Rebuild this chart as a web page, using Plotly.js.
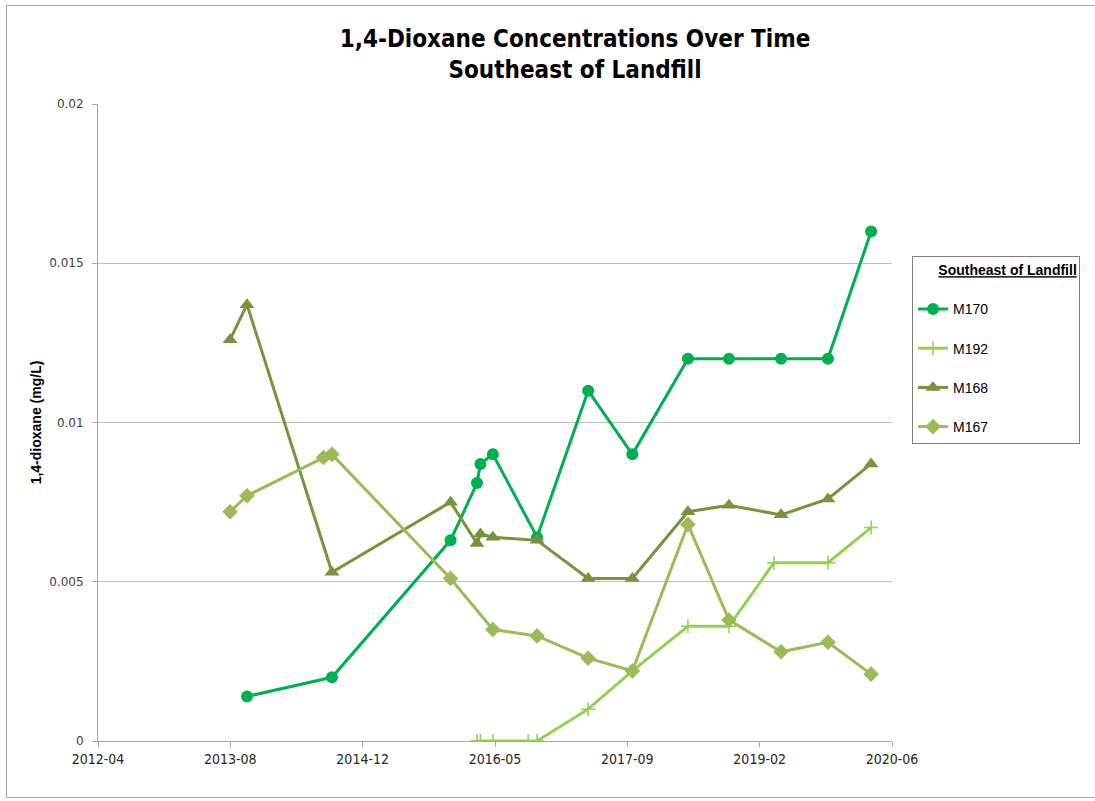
<!DOCTYPE html>
<html>
<head>
<meta charset="utf-8">
<script src="https://cdn.plot.ly/plotly-3.0.1.min.js"></script>
<style>
  html, body { margin: 0; padding: 0; background: #fff; }
  #wrap { position: relative; width: 1095px; height: 801px; }
  #chart { position: absolute; left: 0; top: 0; width: 1095px; height: 801px; }
  #frame { position: absolute; left: 6px; top: 5px; width: 1092px; height: 793px;
           border: 1px solid #a6a6a6; pointer-events: none; box-sizing: border-box; }
</style>
</head>
<body>
<div id="wrap">
  <div id="chart"></div>
  <div id="frame"></div>
</div>
<script>
// ---- data ----
const m170Dates = ['2013-10-16','2014-09-02','2015-11-24','2016-03-03','2016-03-16','2016-05-02','2016-10-16','2017-04-27','2017-10-11','2018-05-09','2018-10-11','2019-04-26','2019-10-20','2020-03-31'];
const m170Vals  = [0.0014, 0.002, 0.0063, 0.0081, 0.0087, 0.009, 0.0064, 0.011, 0.009, 0.012, 0.012, 0.012, 0.012, 0.016];

const m192Dates = ['2016-03-03','2016-03-16','2016-05-02','2016-09-12','2016-10-16','2017-04-27','2017-10-11','2018-05-09','2018-10-11','2019-03-30','2019-10-20','2020-03-31'];
const m192Vals  = [0, 0, 0, 0, 0, 0.001, 0.0022, 0.0036, 0.0036, 0.0056, 0.0056, 0.0067];

const m168Dates = ['2013-08-13','2013-10-16','2014-09-02','2015-11-24','2016-03-03','2016-03-16','2016-05-02','2016-10-16','2017-04-27','2017-10-11','2018-05-09','2018-10-11','2019-04-26','2019-10-20','2020-03-31'];
const m168Vals  = [0.0126, 0.0137, 0.0053, 0.0075, 0.0062, 0.0065, 0.0064, 0.0063, 0.0051, 0.0051, 0.0072, 0.0074, 0.0071, 0.0076, 0.0087];

const m167Dates = ['2013-08-13','2013-10-16','2014-08-01','2014-09-02','2015-11-24','2016-05-02','2016-10-16','2017-04-27','2017-10-11','2018-05-09','2018-10-11','2019-04-26','2019-10-20','2020-03-31'];
const m167Vals  = [0.0072, 0.0077, 0.0089, 0.009, 0.0051, 0.0035, 0.0033, 0.0026, 0.0022, 0.0068, 0.0038, 0.0028, 0.0031, 0.0021];

const xTickVals  = ['2012-04-01','2013-08-14','2014-12-27','2016-05-10','2017-09-22','2019-02-04','2020-06-18'];
const xTickText  = ['2012-04','2013-08','2014-12','2016-05','2017-09','2019-02','2020-06'];
const yTickVals  = [0, 0.005, 0.01, 0.015, 0.02];
const yTickText  = ['0', '0.005', '0.01', '0.015', '0.02'];

const narrow = '"Liberation Sans Narrow", "DejaVu Sans Condensed", "Liberation Sans", sans-serif';
const plain = '"Liberation Sans", Arial, sans-serif';
const pad = '\u00A0'.repeat(6);

const traces = [
  { name: 'M170', x: m170Dates, y: m170Vals, type: 'scatter', mode: 'lines+markers',
    legendgroup: 'a',
    line: { color: '#00B050', width: 3 },
    marker: { symbol: 'circle', size: 12, color: '#00B050' } },
  { name: 'M192', x: m192Dates, y: m192Vals, type: 'scatter', mode: 'lines+markers',
    legendgroup: 'b',
    line: { color: '#92D050', width: 3 },
    marker: { symbol: 'cross-thin', size: 10, color: '#92D050', line: { color: '#92D050', width: 1.5 } } },
  { name: 'M168', x: m168Dates, y: m168Vals, type: 'scatter', mode: 'lines+markers',
    legendgroup: 'c',
    line: { color: '#77933C', width: 3 },
    marker: { symbol: 'triangle-up', size: 13, color: '#77933C' } },
  { name: 'M167', x: m167Dates, y: m167Vals, type: 'scatter', mode: 'lines+markers',
    legendgroup: 'd',
    line: { color: '#9BBB59', width: 3 },
    marker: { symbol: 'diamond', size: 12, color: '#9BBB59' } }
];

const layout = {
  width: 1095, height: 801,
  margin: { l: 98, r: 203, t: 104, b: 60 },
  paper_bgcolor: '#ffffff', plot_bgcolor: '#ffffff',
  showlegend: true,
  title: {
    text: '<b>1,4-Dioxane Concentrations Over Time<br>Southeast of Landfill</b>',
    font: { family: narrow, size: 24, color: '#000000' },
    x: 575 / 1095, xref: 'container', xanchor: 'center',
    y: 1 - 47 / 801, yref: 'container', yanchor: 'top'
  },
  xaxis: {
    type: 'date',
    range: ['2012-04-01', '2020-06-18'],
    tickmode: 'array', tickvals: xTickVals, ticktext: xTickText,
    showgrid: false, zeroline: false,
    showline: true, linecolor: '#a6a6a6', linewidth: 1,
    ticks: 'outside', ticklen: 5, tickcolor: '#a6a6a6', tickwidth: 1,
    tickfont: { family: narrow, size: 14, color: '#262626' }
  },
  yaxis: {
    range: [0, 0.02],
    tickmode: 'array', tickvals: yTickVals, ticktext: yTickText,
    showgrid: true, gridcolor: '#bfbfbf', gridwidth: 1,
    zeroline: false,
    showline: true, linecolor: '#a6a6a6', linewidth: 1,
    ticks: 'outside', ticklen: 5, tickcolor: '#a6a6a6', tickwidth: 1,
    ticklabelstandoff: 6,
    tickfont: { family: '"DejaVu Sans", Verdana, sans-serif', size: 12, color: '#404040' },
    title: { text: '<b>1,4-dioxane (mg/L)</b>', font: { family: plain, size: 14, color: '#000000' }, standoff: 4 }
  },
  legend: {
    x: (912 - 98) / 794, xanchor: 'left',
    y: (741 - 256) / 637, yanchor: 'top',
    bgcolor: '#ffffff', bordercolor: '#7f7f7f', borderwidth: 1,
    traceorder: 'grouped', tracegroupgap: 18,
    font: { family: plain, size: 14, color: '#000000' },
    title: { text: pad + '<b><u>Southeast of Landfill</u></b><br> ', side: 'top',
             font: { family: plain, size: 14, color: '#000000' } },
    itemwidth: 30
  }
};

Plotly.newPlot('chart', traces, layout, { displayModeBar: false, staticPlot: true });
</script>
</body>
</html>
